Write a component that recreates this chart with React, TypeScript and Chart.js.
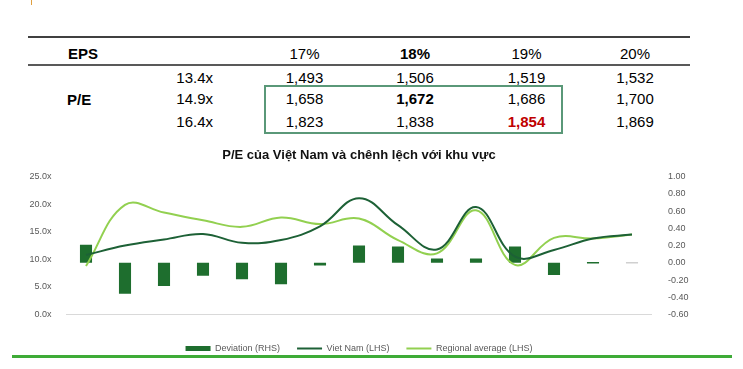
import React, { useEffect, useRef } from "react";
import { Chart, registerables } from "chart.js";

Chart.register(...registerables);

const FONT = "'Liberation Sans', Arial, Helvetica, sans-serif";

// ---- Table data ----
const epsHeaders = ["17%", "18%", "19%", "20%"];
const peLabels = ["13.4x", "14.9x", "16.4x"];
const peRow1 = ["1,493", "1,506", "1,519", "1,532"];
const peRow2 = ["1,658", "1,672", "1,686", "1,700"];
const peRow3 = ["1,823", "1,838", "1,854", "1,869"];

// ---- Chart data ----
const chartTitle = "P/E của Việt Nam và chênh lệch với khu vực";
const categories = [
  "2010", "2011", "2012", "2013", "2014", "2015", "2016", "2017",
  "2018", "2019", "2020", "2021", "2022", "2023", "2024",
];
const deviation = [0.21, -0.36, -0.27, -0.15, -0.19, -0.25, -0.03, 0.2, 0.19, 0.05, 0.05, 0.19, -0.14, 0, 0];
const vietnam = [10.8, 12.5, 13.6, 14.6, 13.0, 13.5, 16.0, 21.1, 16.2, 11.8, 19.5, 10.5, 11.7, 13.8, 14.5];
const regional = [8.8, 19.9, 18.5, 17.1, 15.9, 17.6, 16.4, 17.4, 13.5, 11.1, 18.9, 9.0, 13.9, 13.8, 14.5];

const BAR = "#1e6e2e";
const DARK = "#1d6136";
const LIGHT = "#92d050";
const TICK = "#595959";

function Txt(props: {
  cx?: number;
  left?: number;
  cy: number;
  bold?: boolean;
  color?: string;
  children: React.ReactNode;
}) {
  const { cx, left, cy, bold, color, children } = props;
  const style: React.CSSProperties = {
    position: "absolute",
    top: cy - 10,
    height: 20,
    lineHeight: "20px",
    fontSize: 15,
    fontFamily: FONT,
    fontWeight: bold ? "bold" : "normal",
    color: color || "#000",
    whiteSpace: "nowrap",
  };
  if (cx !== undefined) {
    style.left = cx - 50;
    style.width = 100;
    style.textAlign = "center";
  } else {
    style.left = left;
  }
  return <div style={style}>{children}</div>;
}

function PEChart() {
  const ref = useRef<HTMLCanvasElement | null>(null);
  useEffect(() => {
    if (!ref.current) return;
    const barColors = deviation.map((_, i) => (i === deviation.length - 1 ? "#d0d0d0" : BAR));
    const chart = new Chart(ref.current, {
      type: "bar",
      data: {
        labels: categories,
        datasets: [
          {
            type: "bar",
            label: "Deviation (RHS)",
            data: deviation,
            yAxisID: "y1",
            backgroundColor: barColors,
            borderWidth: 0,
            barPercentage: 0.31,
            categoryPercentage: 1,
            minBarLength: 1.5,
            order: 2,
            pointStyle: "rect",
          } as any,
          {
            type: "line",
            label: "Viet Nam (LHS)",
            data: vietnam,
            yAxisID: "y",
            borderColor: DARK,
            backgroundColor: DARK,
            borderWidth: 2,
            pointRadius: 0,
            tension: 0.4,
            order: 1,
            pointStyle: "line",
          } as any,
          {
            type: "line",
            label: "Regional average (LHS)",
            data: regional,
            yAxisID: "y",
            borderColor: LIGHT,
            backgroundColor: LIGHT,
            borderWidth: 2,
            pointRadius: 0,
            tension: 0.4,
            order: 1,
            pointStyle: "line",
          } as any,
        ],
      },
      options: {
        animation: false,
        responsive: true,
        maintainAspectRatio: false,
        layout: { padding: 0 },
        plugins: {
          title: {
            display: true,
            text: chartTitle,
            fullSize: false,
            color: "#111",
            font: { family: FONT, size: 13, weight: "bold" },
            padding: { top: 7.2, bottom: 13.9 },
          },
          legend: {
            display: true,
            position: "bottom",
            fullSize: false,
            labels: {
              usePointStyle: true,
              pointStyleWidth: 25,
              boxHeight: 5,
              padding: 17,
              color: TICK,
              font: { family: FONT, size: 9 },
              sort: (a: any, b: any) => a.datasetIndex - b.datasetIndex,
            },
          },
          tooltip: { enabled: false },
        },
        scales: {
          x: {
            grid: { display: false },
            border: { display: true, color: "#d9d9d9", width: 1 },
            ticks: { color: TICK, font: { family: FONT, size: 9 }, padding: 5, maxRotation: 0, autoSkip: false },
            afterFit: (s: any) => {
              s.height = 12.5;
            },
          },
          y: {
            position: "left",
            min: 0,
            max: 25,
            grid: { display: false },
            border: { display: false },
            ticks: {
              stepSize: 5,
              padding: 7,
              color: TICK,
              font: { family: FONT, size: 9 },
              callback: (v: any) => Number(v).toFixed(1) + "x",
            },
            afterFit: (s: any) => {
              s.width = 66.5;
            },
          },
          y1: {
            position: "right",
            min: -0.6,
            max: 1.0,
            grid: { display: false },
            border: { display: false },
            ticks: {
              stepSize: 0.2,
              padding: 8.5,
              color: TICK,
              font: { family: FONT, size: 9 },
              callback: (v: any) => {
                const n = Math.abs(Number(v)) < 1e-9 ? 0 : Number(v);
                return n.toFixed(2);
              },
            },
            afterFit: (s: any) => {
              s.width = 91.5;
            },
          },
        },
      } as any,
    });
    return () => chart.destroy();
  }, []);
  return (
    <div style={{ position: "absolute", left: 0, top: 140, width: 743, height: 223 }}>
      <canvas ref={ref} />
    </div>
  );
}

export default function App() {
  const colX = [304.5, 415, 526.5, 635];
  const rows = [peRow1, peRow2, peRow3];
  const rowY = [77.5, 99, 121.7];
  return (
    <div
      style={{
        position: "absolute",
        left: 0,
        top: 0,
        width: 743,
        height: 369,
        background: "#fff",
        overflow: "hidden",
        fontFamily: FONT,
      }}
    >
      <div style={{ position: "absolute", left: 31, top: 0, width: 1, height: 5, background: "#e0a040" }} />
      <div style={{ position: "absolute", left: 28, top: 36, width: 662, height: 2, background: "#404040" }} />
      <div style={{ position: "absolute", left: 28, top: 64, width: 662, height: 2, background: "#595959" }} />
      <Txt left={68} cy={53.5} bold>
        EPS
      </Txt>
      {epsHeaders.map((h, i) => (
        <Txt key={h} cx={colX[i]} cy={53.5} bold={i === 1}>
          {h}
        </Txt>
      ))}
      <Txt left={67} cy={100} bold>
        P/E
      </Txt>
      {peLabels.map((l, i) => (
        <Txt key={l} cx={194.7} cy={rowY[i]}>
          {l}
        </Txt>
      ))}
      {rows.map((row, r) =>
        row.map((v, c) => (
          <Txt
            key={r + "-" + c}
            cx={colX[c]}
            cy={rowY[r]}
            bold={(r === 1 && c === 1) || (r === 2 && c === 2)}
            color={r === 2 && c === 2 ? "#c00000" : "#000"}
          >
            {v}
          </Txt>
        ))
      )}
      <div
        style={{
          position: "absolute",
          left: 264,
          top: 85,
          width: 299,
          height: 49,
          border: "2px solid #5a9878",
          boxSizing: "border-box",
        }}
      />
      <PEChart />
      <div style={{ position: "absolute", left: 12, top: 355, width: 720, height: 3, background: "#3eab37" }} />
    </div>
  );
}
